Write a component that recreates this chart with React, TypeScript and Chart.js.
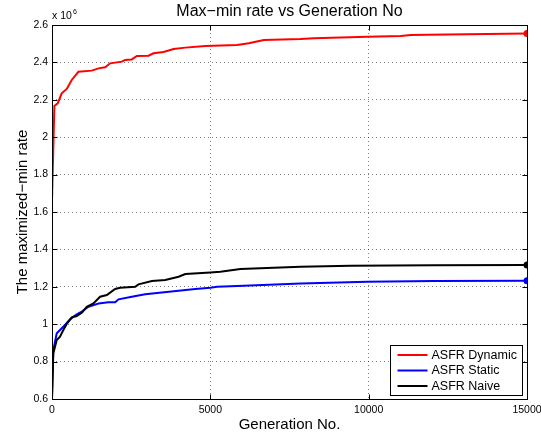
import React, { useEffect, useRef } from "react";
import { Chart, registerables } from "chart.js";

Chart.register(...registerables);

// Values are in units of 10^6
const xTickValues = [0, 5000, 10000, 15000];
const yTickValues = [0.6, 0.8, 1.0, 1.2, 1.4, 1.6, 1.8, 2.0, 2.2, 2.4, 2.6];

const seriesLabels = ["ASFR Dynamic", "ASFR Static", "ASFR Naive"];
const seriesColors = ["#ff0000", "#0000ff", "#000000"];

const dynamicGen = [0, 75, 180, 307, 465, 623, 835, 1255, 1468, 1677, 1836, 2205, 2310, 2520, 2680, 3048, 3206, 3522, 3840, 4210, 4842, 5845, 6213, 6688, 7850, 8270, 9960, 11014, 11330, 11860, 15000];
const dynamicVal = [1.664, 2.167, 2.181, 2.235, 2.258, 2.306, 2.35, 2.356, 2.368, 2.374, 2.395, 2.404, 2.413, 2.416, 2.434, 2.436, 2.449, 2.456, 2.472, 2.479, 2.488, 2.493, 2.502, 2.52, 2.525, 2.529, 2.537, 2.541, 2.547, 2.548, 2.555];

const staticGen = [0, 40, 150, 253, 410, 570, 780, 940, 1150, 1468, 1782, 1994, 2100, 2520, 2943, 3470, 3997, 4526, 5000, 5212, 6055, 7850, 9960, 12060, 15000];
const staticVal = [0.604, 0.862, 0.951, 0.969, 0.996, 1.026, 1.053, 1.067, 1.093, 1.111, 1.117, 1.117, 1.133, 1.147, 1.16, 1.17, 1.179, 1.188, 1.195, 1.2, 1.206, 1.218, 1.227, 1.231, 1.233];

const naiveGen = [0, 40, 150, 253, 358, 465, 623, 780, 940, 1098, 1307, 1519, 1731, 1994, 2152, 2627, 2731, 3155, 3576, 3997, 4210, 5000, 5317, 5950, 7850, 9430, 12060, 15000];
const naiveVal = [0.604, 0.844, 0.915, 0.933, 0.969, 1.001, 1.037, 1.044, 1.061, 1.093, 1.111, 1.147, 1.156, 1.188, 1.195, 1.2, 1.213, 1.231, 1.236, 1.254, 1.268, 1.277, 1.281, 1.295, 1.307, 1.313, 1.315, 1.316];

const titleText = "Max\u2212min rate vs Generation No";
const xLabelText = "Generation No.";
const yLabelText = "The maximized\u2212min rate";

const FONT = "'Liberation Sans', Arial, Helvetica, sans-serif";

const toPoints = (xs: number[], ys: number[]) => xs.map((x, i) => ({ x, y: ys[i] }));

const framePlugin = {
  id: "matlabFrame",
  afterDraw(chart: any) {
    const { ctx, chartArea: a, scales } = chart;
    const L = Math.round(a.left) + 0.5;
    const R = Math.round(a.right) + 0.5;
    const T = Math.round(a.top) + 0.5;
    const B = Math.round(a.bottom) + 0.5;
    ctx.save();
    ctx.strokeStyle = "#000";
    ctx.lineWidth = 1;
    ctx.setLineDash([]);
    const tl = 5;
    ctx.beginPath();
    for (const v of xTickValues) {
      const px = Math.round(scales.x.getPixelForValue(v)) + 0.5;
      ctx.moveTo(px, B);
      ctx.lineTo(px, B - tl);
      ctx.moveTo(px, T);
      ctx.lineTo(px, T + tl);
    }
    for (const v of yTickValues) {
      const py = Math.round(scales.y.getPixelForValue(v)) + 0.5;
      ctx.moveTo(L, py);
      ctx.lineTo(L + tl, py);
      ctx.moveTo(R, py);
      ctx.lineTo(R - tl, py);
    }
    ctx.stroke();
    ctx.strokeRect(L, T, R - L, B - T);

    // texts
    ctx.fillStyle = "#000";
    ctx.textAlign = "center";
    ctx.textBaseline = "alphabetic";
    ctx.font = `16px ${FONT}`;
    ctx.fillText(titleText, (a.left + a.right) / 2, 16);
    ctx.font = `15px ${FONT}`;
    ctx.fillText(xLabelText, (a.left + a.right) / 2, 429);
    ctx.save();
    ctx.translate(27, (a.top + a.bottom) / 2);
    ctx.rotate(-Math.PI / 2);
    ctx.fillText(yLabelText, 0, 0);
    ctx.restore();

    // exponent
    ctx.textAlign = "left";
    ctx.font = `10.5px ${FONT}`;
    ctx.fillText("x 10", a.left, 19);
    ctx.font = `7px ${FONT}`;
    ctx.fillText("6", a.left + 21, 14);

    // legend
    const lw = 132;
    const lh = 50;
    const lx = Math.round(a.right - 5 - lw) + 0.5;
    const ly = Math.round(a.bottom - 4 - lh) + 0.5;
    ctx.fillStyle = "#fff";
    ctx.fillRect(lx, ly, lw, lh);
    ctx.strokeStyle = "#000";
    ctx.lineWidth = 1;
    ctx.strokeRect(lx, ly, lw, lh);
    ctx.font = `12.5px ${FONT}`;
    ctx.textBaseline = "middle";
    chart.data.datasets.forEach((ds: any, i: number) => {
      const yy = ly + 9.5 + i * 15.5;
      ctx.strokeStyle = ds.borderColor;
      ctx.lineWidth = 2;
      ctx.beginPath();
      ctx.moveTo(lx + 7, yy);
      ctx.lineTo(lx + 37, yy);
      ctx.stroke();
      ctx.fillStyle = "#000";
      ctx.fillText(ds.label, lx + 41, yy + 0.5);
    });
    ctx.restore();
  },
};

export default function App() {
  const ref = useRef<HTMLCanvasElement | null>(null);
  useEffect(() => {
    if (!ref.current) return;
    const seriesData = [
      toPoints(dynamicGen, dynamicVal),
      toPoints(staticGen, staticVal),
      toPoints(naiveGen, naiveVal),
    ];
    const chart = new Chart(ref.current, {
      type: "line",
      data: {
        datasets: seriesData.map((d, i) => ({
          label: seriesLabels[i],
          data: d,
          borderColor: seriesColors[i],
          backgroundColor: seriesColors[i],
          borderWidth: 2,
          tension: 0,
          fill: false,
          order: 2 - i,
          pointRadius: (c: any) => (c.dataIndex === d.length - 1 ? 3.5 : 0),
          pointHoverRadius: 0,
          pointBorderWidth: 0,
        })),
      },
      options: {
        responsive: false,
        animation: false,
        events: [],
        layout: { padding: { left: 0, right: 14, top: 25, bottom: 0 } },
        plugins: {
          legend: { display: false },
          title: { display: false },
          tooltip: { enabled: false },
        },
        scales: {
          x: {
            type: "linear",
            min: 0,
            max: 15000,
            afterFit: (s: any) => {
              s.height = 37;
              s.paddingLeft = 0;
              s.paddingRight = 0;
            },
            afterBuildTicks: (s: any) => {
              s.ticks = xTickValues.map((v) => ({ value: v }));
            },
            ticks: {
              padding: 5,
              maxRotation: 0,
              autoSkip: false,
              color: "#000",
              font: { family: FONT, size: 10.5 },
              callback: (v: any) => String(v),
            },
            grid: {
              drawTicks: false,
              color: (c: any) =>
                c.tick && (c.tick.value === 0 || c.tick.value === 15000) ? "rgba(0,0,0,0)" : "rgba(0,0,0,0.5)",
              lineWidth: 1,
            },
            border: { display: false, dash: [1, 3] },
          },
          y: {
            type: "linear",
            min: 0.6,
            max: 2.6,
            afterFit: (s: any) => {
              s.width = 52;
              s.paddingTop = 0;
              s.paddingBottom = 0;
            },
            afterBuildTicks: (s: any) => {
              s.ticks = yTickValues.map((v) => ({ value: v }));
            },
            ticks: {
              padding: 4,
              autoSkip: false,
              color: "#000",
              font: { family: FONT, size: 10.5 },
              callback: (v: any) => String(Number(Number(v).toFixed(1))),
            },
            grid: {
              drawTicks: false,
              color: (c: any) =>
                c.tick && (Math.abs(c.tick.value - 0.6) < 1e-6 || Math.abs(c.tick.value - 2.6) < 1e-6)
                  ? "rgba(0,0,0,0)"
                  : "rgba(0,0,0,0.5)",
              lineWidth: 1,
            },
            border: { display: false, dash: [1, 3] },
          },
        },
      },
      plugins: [framePlugin],
    } as any);
    return () => chart.destroy();
  }, []);
  return (
    <div style={{ position: "fixed", left: 0, top: 0, width: 541, height: 436, background: "#fff" }}>
      <canvas ref={ref} width={541} height={436} style={{ display: "block", width: 541, height: 436 }} />
    </div>
  );
}
